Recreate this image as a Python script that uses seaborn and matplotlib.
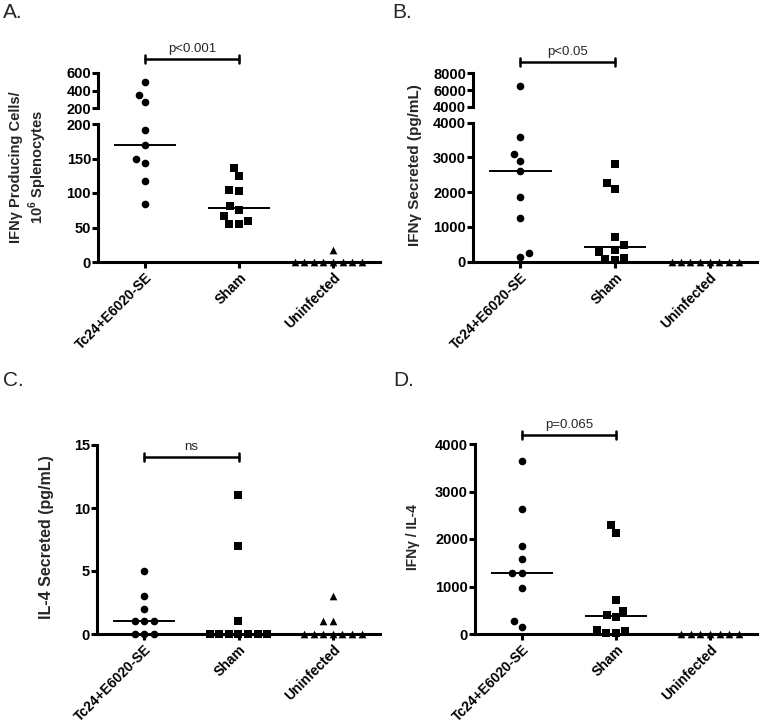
import numpy as np
import pandas as pd
import matplotlib
matplotlib.use("Agg")
import matplotlib.pyplot as plt
import matplotlib.transforms as mtransforms
import seaborn as sns

groups = ["Tc24+E6020-SE", "Sham", "Uninfected"]
markers = ["o", "s", "^"]

# A. IFNg producing cells per 10^6 splenocytes
a_vacc = [500, 350, 265, 192, 170, 149, 143, 117, 84]
a_sham = [136, 125, 105, 103, 81, 75, 66, 60, 55, 55]
a_uninf = [18, 0, 0, 0, 0, 0, 0, 0, 0]

# B. IFNg secreted (pg/mL)
b_vacc = [6450, 3600, 3100, 2900, 2600, 1850, 1250, 260, 140]
b_sham = [2800, 2260, 2100, 700, 470, 350, 270, 100, 80, 50]
b_uninf = [0, 0, 0, 0, 0, 0, 0, 0]

# C. IL-4 secreted (pg/mL)
c_vacc = [5, 3, 2, 1, 1, 1, 0, 0, 0]
c_sham = [11, 7, 1, 0, 0, 0, 0, 0, 0, 0]
c_uninf = [3, 1, 1, 0, 0, 0, 0, 0, 0, 0]

# D. IFNg / IL-4
d_vacc = [3650, 2630, 1860, 1570, 1280, 1280, 970, 270, 150]
d_sham = [2290, 2120, 710, 490, 400, 350, 90, 60, 30, 20]
d_uninf = [0, 0, 0, 0, 0, 0, 0]

sns.set_style("ticks")
plt.rcParams["font.family"] = ["Liberation Sans", "DejaVu Sans"]
plt.rcParams["font.weight"] = "bold"
plt.rcParams["mathtext.fontset"] = "custom"
plt.rcParams["mathtext.rm"] = "Liberation Sans:bold"
plt.rcParams["mathtext.bf"] = "Liberation Sans:bold"
plt.rcParams["axes.linewidth"] = 2.2
plt.rcParams["axes.edgecolor"] = "black"

W, H = 760, 726
fig = plt.figure(figsize=(W / 100, H / 100), dpi=100)

SWARM_SIZE = 6.6   # spacing used by the swarm
MARK_SIZE = 5.5    # drawn marker size
swarm_colls = []


def box(left, top, right, bottom):
    # pixel box -> figure fraction
    return [left / W, 1 - bottom / H, (right - left) / W, (bottom - top) / H]


def to_df(vacc, sham, uninf):
    vals = [vacc, sham, uninf]
    return pd.DataFrame({"group": np.repeat(groups, [len(v) for v in vals]),
                         "value": np.concatenate(vals).astype(float)})


def dots(ax, df, lo, hi):
    part = df[(df.value >= lo) & (df.value <= hi)]
    for g, m in zip(groups, markers):
        sub = part[part.group == g]
        if len(sub):
            n = len(ax.collections)
            sns.swarmplot(data=sub, x="group", y="value", order=groups, marker=m,
                          color="black", size=SWARM_SIZE, clip_on=False, ax=ax, zorder=3)
            swarm_colls.extend(ax.collections[n:])


def median_line(ax, df):
    sns.boxplot(data=df, x="group", y="value", order=groups, width=0.66,
                showbox=False, showcaps=False, showfliers=False, whis=0,
                whiskerprops={"visible": False}, linecolor="black", linewidth=1.4,
                medianprops={"color": "black", "linewidth": 1.4}, ax=ax)


def style(ax, lim, ticks, bottom=True):
    ax.set_ylim(*lim)
    ax.set_yticks(ticks)
    ax.set_yticklabels([str(t) for t in ticks])
    ax.set_xlim(-0.5, 2.5)
    ax.set_xlabel("")
    ax.set_ylabel("")
    ax.spines[["top", "right"]].set_visible(False)
    ax.tick_params(axis="y", width=2.2, length=4, labelsize=10.5, pad=1, colors="black")
    if bottom:
        ax.set_xticks(range(3))
        ax.set_xticklabels(groups, rotation=45, ha="right", rotation_mode="anchor", fontsize=10)
        ax.tick_params(axis="x", width=2.2, length=4, pad=2, colors="black")
    else:
        ax.spines["bottom"].set_visible(False)
        ax.set_xticks([])


def bracket(ax, y, label):
    tr = mtransforms.blended_transform_factory(ax.transData, fig.transFigure)
    fy = 1 - y / H
    cap = 4 / H
    ax.plot([0, 1], [fy, fy], transform=tr, color="black", lw=1.8, clip_on=False)
    for x in (0, 1):
        ax.plot([x, x], [fy - cap, fy + cap], transform=tr, color="black", lw=1.8, clip_on=False)
    ax.text(0.5, fy + 7 / H, label, transform=tr, ha="center", va="baseline",
            fontsize=9.5, fontweight="normal")


panels = [
    # df, lower box, lower lim/ticks, upper box, upper lim/ticks, bracket y, p text
    (to_df(a_vacc, a_sham, a_uninf), box(98, 124, 380, 262), (0, 200), [0, 50, 100, 150, 200],
     box(98, 73, 380, 108), (200, 600), [200, 400, 600], 59, "p<0.001"),
    (to_df(b_vacc, b_sham, b_uninf), box(473, 122.7, 757, 261.7), (0, 4000), [0, 1000, 2000, 3000, 4000],
     box(473, 73.3, 757, 106.7), (4000, 8000), [4000, 6000, 8000], 61.7, "p<0.05"),
    (to_df(c_vacc, c_sham, c_uninf), box(97, 445, 380, 634), (0, 15), [0, 5, 10, 15],
     None, None, None, 456.7, "ns"),
    (to_df(d_vacc, d_sham, d_uninf), box(475, 444, 757, 634), (0, 4000), [0, 1000, 2000, 3000, 4000],
     None, None, None, 435, "p=0.065"),
]

for df, lbox, llim, lticks, ubox, ulim, uticks, by, ptxt in panels:
    ax = fig.add_axes(lbox)
    ax.set_ylim(*llim)
    ax.set_xlim(-0.5, 2.5)
    median_line(ax, df)
    dots(ax, df, llim[0], llim[1])
    style(ax, llim, lticks)
    top_ax = ax
    if ubox is not None:
        ax2 = fig.add_axes(ubox)
        ax2.set_ylim(*ulim)
        ax2.set_xlim(-0.5, 2.5)
        dots(ax2, df, ulim[0] + 1e-9, ulim[1])
        style(ax2, ulim, uticks, bottom=False)
        top_ax = ax2
    bracket(top_ax, by, ptxt)

# y axis labels
fig.text(29 / W, 1 - 167 / H, "IFNγ Producing Cells/\n10$^{6}$ Splenocytes", rotation=90,
         ha="center", va="center", multialignment="center", fontsize=10.5, linespacing=1.25)
fig.text(415 / W, 1 - 165 / H, "IFNγ Secreted (pg/mL)", rotation=90,
         ha="center", va="center", fontsize=11)
fig.text(47 / W, 1 - 537 / H, "IL-4 Secreted (pg/mL)", rotation=90,
         ha="center", va="center", fontsize=11.5)
fig.text(413 / W, 1 - 537 / H, "IFNγ / IL-4", rotation=90,
         ha="center", va="center", fontsize=10)

# panel letters
for x, y, s in [(3, 3, "A."), (392, 3, "B."), (3, 371, "C."), (393, 371, "D.")]:
    fig.text(x / W, 1 - y / H, s, ha="left", va="top", fontsize=15, fontweight="normal")

# lay out the swarms with the wider spacing, then freeze them and shrink the markers
fig.canvas.draw()
for coll in swarm_colls:
    if "draw" in coll.__dict__:
        del coll.draw
    coll.set_sizes([MARK_SIZE ** 2])

fig.savefig("out.png", dpi=100)
